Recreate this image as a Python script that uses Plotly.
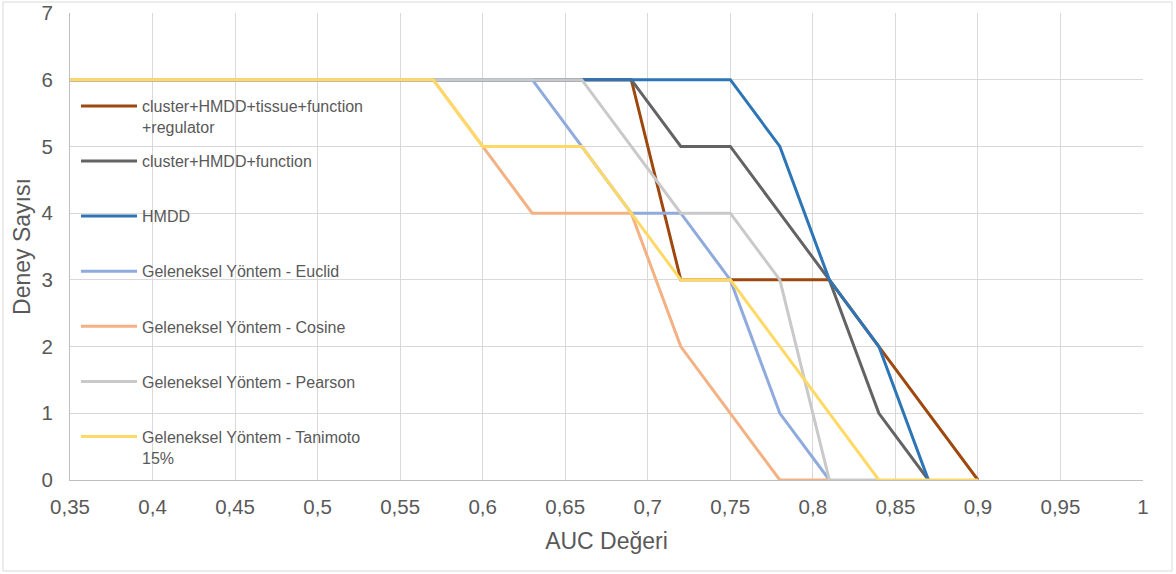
import plotly.graph_objects as go

auc = [0.35, 0.57, 0.60, 0.63, 0.66, 0.69, 0.72, 0.75, 0.78, 0.81, 0.84, 0.87, 0.90]

names = [
    "cluster+HMDD+tissue+function<br>+regulator",
    "cluster+HMDD+function",
    "HMDD",
    "Geleneksel Yöntem - Euclid",
    "Geleneksel Yöntem - Cosine",
    "Geleneksel Yöntem - Pearson",
    "Geleneksel Yöntem - Tanimoto<br>15%",
]

full_model = [6, 6, 6, 6, 6, 6, 3, 3, 3, 3, 2, 1, 0]
cluster_func = [6, 6, 6, 6, 6, 6, 5, 5, 4, 3, 1, 0, None]
hmdd = [6, 6, 6, 6, 6, 6, 6, 6, 5, 3, 2, 0, None]
euclid = [6, 6, 6, 6, 5, 4, 4, 3, 1, 0, None, None, None]
cosine = [6, 6, 5, 4, 4, 4, 2, 1, 0, 0, None, None, None]
pearson = [6, 6, 6, 6, 6, 5, 4, 4, 3, 0, 0, None, None]
tanimoto = [6, 6, 5, 5, 5, 4, 3, 3, 2, 1, 0, 0, 0]

series = [full_model, cluster_func, hmdd, euclid, cosine, pearson, tanimoto]
colors = ["#9E480E", "#636363", "#2E75B6", "#8FAADC", "#F4B183", "#C9C9C9", "#FFD966"]

fig = go.Figure()
for i, (nm, ys, col) in enumerate(zip(names, series, colors)):
    label = nm if "<br>" in nm else nm + "<br> "
    fig.add_trace(go.Scatter(
        x=auc, y=ys, mode="lines", name=label,
        line=dict(color=col, width=3),
        legendgroup=f"g{i}",
    ))

W, H = 1176, 574
L, R, T, B = 70, 33, 13, 94
pw, ph = W - L - R, H - T - B

def px_x(p):
    return (p - L) / pw

def px_y(p):
    return (H - B - p) / ph

font_family = "Liberation Sans, Arial, sans-serif"
txt = "#595959"

fig.update_layout(
    width=W, height=H,
    margin=dict(l=L, r=R, t=T, b=B, autoexpand=False),
    paper_bgcolor="white", plot_bgcolor="white",
    separators=", ",
    font=dict(family=font_family, color=txt),
    showlegend=True,
    legend=dict(
        x=px_x(76), y=px_y(89), xanchor="left", yanchor="top",
        bgcolor="rgba(0,0,0,0)", font=dict(size=16, color=txt),
        valign="top", tracegroupgap=10.5, itemwidth=56,
    ),
    xaxis=dict(
        range=[0.35, 1.0], dtick=0.05, tick0=0.35,
        showgrid=True, gridcolor="#D9D9D9", gridwidth=1,
        showline=True, linecolor="#BFBFBF", linewidth=1,
        zeroline=False, ticks="", tickfont=dict(size=20.5, color=txt),
        ticklabelstandoff=8,
        title=dict(text="AUC Değeri", font=dict(size=23, color=txt), standoff=16),
    ),
    yaxis=dict(
        range=[0, 7], dtick=1,
        showgrid=True, gridcolor="#D9D9D9", gridwidth=1,
        showline=True, linecolor="#BFBFBF", linewidth=1,
        zeroline=False, ticks="", tickfont=dict(size=20.5, color=txt),
        ticklabelstandoff=12,
        title=dict(text="Deney Sayısı", font=dict(size=23, color=txt), standoff=4),
    ),
    shapes=[dict(
        type="rect", xref="paper", yref="paper",
        x0=px_x(3), x1=px_x(1172), y0=px_y(571), y1=px_y(2),
        line=dict(color="#D9D9D9", width=1), fillcolor="rgba(0,0,0,0)",
        layer="below",
    )],
)

post = (
    "document.body.style.margin='0';"
    "document.documentElement.style.margin='0';"
    "var d=document.getElementById('{plot_id}');"
    "d.style.position='absolute';d.style.left='0px';d.style.top='0px';"
)
fig.write_html("out.html", post_script=post, config={"displayModeBar": False})
